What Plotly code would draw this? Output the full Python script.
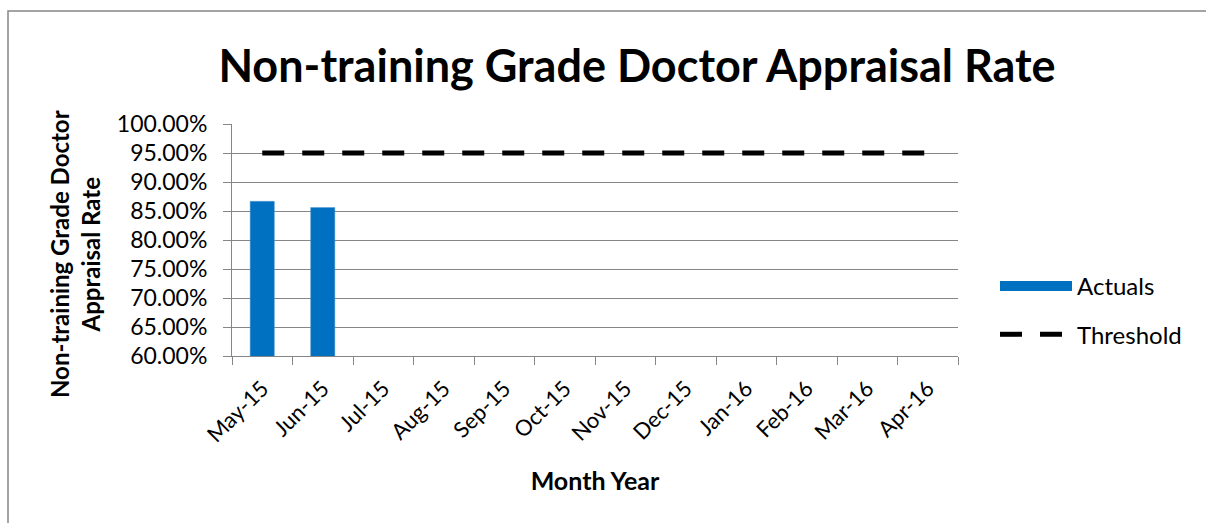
import plotly.graph_objects as go

months = ["May-15", "Jun-15", "Jul-15", "Aug-15", "Sep-15", "Oct-15",
          "Nov-15", "Dec-15", "Jan-16", "Feb-16", "Mar-16", "Apr-16"]
actuals = [0.8667, 0.8560, None, None, None, None, None, None, None, None, None, None]
threshold = [0.95] * 12

FONT = "Lato"
BAR_COLOR = "#0070C0"

fig = go.Figure()
fig.add_trace(go.Bar(x=months, y=actuals, name="Actuals", legendgroup="a", showlegend=False,
                     marker=dict(color=BAR_COLOR, line=dict(color="#5B9BD5", width=0.5))))
# legend key for Actuals drawn as a wide rectangle (as in the original chart)
fig.add_trace(go.Scatter(x=[None], y=[None], name="Actuals", legendgroup="a", mode="lines",
                         line=dict(color=BAR_COLOR, width=14), hoverinfo="skip"))
fig.add_trace(go.Scatter(x=months, y=threshold, name="Threshold", mode="lines", legendgroup="b",
                         line=dict(color="black", width=5, dash="22px,18px")))

W, H = 1206, 523
L, R, T, B = 232, 248, 124, 167
pw, ph = W - L - R, H - T - B

fig.update_layout(
    width=W, height=H,
    margin=dict(l=L, r=R, t=T, b=B),
    paper_bgcolor="white", plot_bgcolor="white",
    font=dict(family=FONT, color="black", size=21),
    bargap=0.6,
    title=dict(text="<b>Non-training Grade Doctor Appraisal Rate</b>",
               x=637 / W, xanchor="center", y=1 - 66 / H, yanchor="middle",
               font=dict(size=45, family=FONT)),
    showlegend=True,
    legend=dict(x=(995 - L) / pw, y=(356 - 264) / ph, xanchor="left", yanchor="top",
                font=dict(size=24, family=FONT), tracegroupgap=14, itemwidth=72,
                bgcolor="rgba(0,0,0,0)"),
    xaxis=dict(type="category", tickangle=-45, showgrid=False,
               showline=True, linecolor="#868686", linewidth=1,
               ticks="outside", ticklen=8, tickcolor="#868686", tickson="boundaries",
               tickfont=dict(size=22), ticklabelstandoff=10,
               title=dict(text="<b>Month Year</b>", font=dict(size=25), standoff=26)),
    yaxis=dict(range=[0.6, 1.0], dtick=0.05, tickformat=".2%",
               showgrid=True, gridcolor="#868686", gridwidth=1,
               showline=True, linecolor="#868686", linewidth=1,
               ticks="outside", ticklen=8, tickcolor="#868686",
               tickfont=dict(size=23), zeroline=False, ticklabelstandoff=11),
    annotations=[dict(text="<b>Non-training Grade Doctor<br>Appraisal Rate</b>",
                      xref="paper", yref="paper", x=(75 - L) / pw, y=(356 - 254) / ph,
                      xanchor="center", yanchor="middle", textangle=-90,
                      showarrow=False, font=dict(size=24, family=FONT))],
)

fig.add_shape(type="rect", xref="paper", yref="paper",
              x0=(8 - L) / pw, x1=(W + 5 - L) / pw,
              y0=(H - B - (H + 5)) / ph, y1=(H - B - 11) / ph,
              line=dict(color="#868686", width=1.5), layer="below")

fig.write_html("out.html", config={"displayModeBar": False},
               post_script="document.body.style.margin='0';document.body.style.overflow='hidden';")
